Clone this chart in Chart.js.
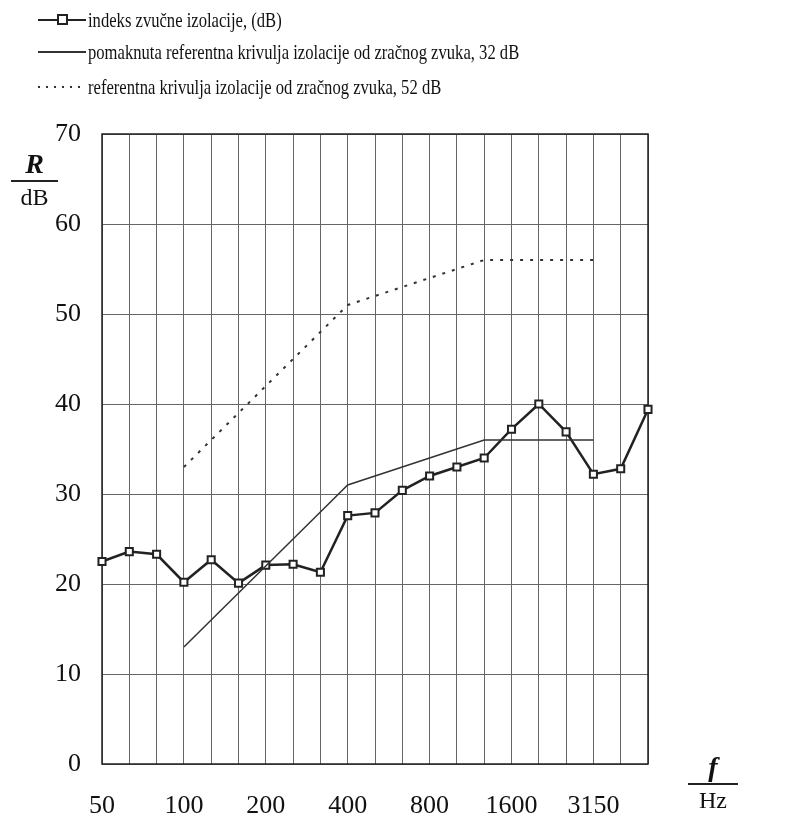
<!DOCTYPE html>
<html>
<head>
<meta charset="utf-8">
<script src="https://cdn.jsdelivr.net/npm/chart.js@4/dist/chart.umd.min.js"></script>
<style>
  body { margin: 0; background: #fff; font-family: "Liberation Serif", serif; }
  #wrap { position: relative; width: 789px; height: 816px; }
  canvas { position: absolute; left: 0; top: 0; }
  .leg { position: absolute; left: 38px; height: 24px; white-space: nowrap; }
  .leg .sample { position: absolute; left: 0; top: 11px; width: 48px; height: 2px; }
  .leg .txt { position: absolute; left: 50px; top: 0; font-size: 22px; line-height: 24px;
              transform: scaleX(0.755); transform-origin: left center; color: #111; }
  .box { position: absolute; left: 19px; top: -5px; width: 7px; height: 7px;
         border: 2px solid #222; background: #fff; }
  .frac { position: absolute; text-align: center; color: #111; }
  .frac .top { font-weight: bold; font-style: italic; font-size: 28px; line-height: 28px; }
  .frac .bar { border-top: 2px solid #222; margin: 2px 0 4px 0; }
  .frac .bot { font-size: 24px; line-height: 22px; }
</style>
</head>
<body>
<div id="wrap">
  <canvas id="chart" width="789" height="816"></canvas>
  <div class="leg" style="top:8px">
    <div class="sample" style="background:#222"><div class="box"></div></div>
    <div class="txt">indeks zvučne izolacije, (dB)</div>
  </div>
  <div class="leg" style="top:40px">
    <div class="sample" style="background:#333; height:1.5px"></div>
    <div class="txt">pomaknuta referentna krivulja izolacije od zračnog zvuka, 32 dB</div>
  </div>
  <div class="leg" style="top:75px">
    <div class="sample" style="background:repeating-linear-gradient(90deg, #333 0 2px, transparent 2px 8px)"></div>
    <div class="txt">referentna krivulja izolacije od zračnog zvuka, 52 dB</div>
  </div>
  <div class="frac" style="left:11px; top:150px; width:47px">
    <div class="top">R</div><div class="bar"></div><div class="bot">dB</div>
  </div>
  <div class="frac" style="left:688px; top:753px; width:50px">
    <div class="top">f</div><div class="bar"></div><div class="bot">Hz</div>
  </div>
</div>
<script>
// third-octave bands, Hz
const frequencies = ['50', '63', '80', '100', '125', '160', '200', '250', '315', '400',
    '500', '630', '800', '1000', '1250', '1600', '2000', '2500', '3150', '4000', '5000'];
const shownTicks = ['50', '100', '200', '400', '800', '1600', '3150'];

// measured sound reduction index R, dB
const measured = [22.5, 23.6, 23.3, 20.2, 22.7, 20.1, 22.1, 22.2, 21.3, 27.6,
    27.9, 30.4, 32.0, 33.0, 34.0, 37.2, 40.0, 36.9, 32.2, 32.8, 39.4];

// shifted reference curve (32 dB)
const shiftedRef = [null, null, null, 13, 16, 19, 22, 25, 28, 31,
    32, 33, 34, 35, 36, 36, 36, 36, 36, null, null];

// reference curve (52 dB)
const referenceCurve = [null, null, null, 33, 36, 39, 42, 45, 48, 51,
    52, 53, 54, 55, 56, 56, 56, 56, 56, null, null];

const ctx = document.getElementById('chart').getContext('2d');

const frame = {
    id: 'frame',
    beforeDatasetsDraw(chart) {
        const a = chart.chartArea;
        const c = chart.ctx;
        c.save();
        c.strokeStyle = '#222';
        c.lineWidth = 1.5;
        c.strokeRect(a.left, a.top, a.right - a.left, a.bottom - a.top);
        c.restore();
    }
};

new Chart(ctx, {
    type: 'line',
    data: {
        labels: frequencies,
        datasets: [{
            label: 'referentna krivulja izolacije od zračnog zvuka, 52 dB',
            data: referenceCurve,
            borderColor: '#333',
            borderWidth: 2,
            borderDash: [3, 7],
            pointRadius: 0,
            tension: 0
        }, {
            label: 'pomaknuta referentna krivulja izolacije od zračnog zvuka, 32 dB',
            data: shiftedRef,
            borderColor: '#333',
            borderWidth: 1.5,
            pointRadius: 0,
            tension: 0
        }, {
            label: 'indeks zvučne izolacije, (dB)',
            data: measured,
            borderColor: '#222',
            borderWidth: 2.5,
            pointStyle: 'rect',
            pointRadius: 5,
            pointBorderWidth: 2,
            pointBackgroundColor: '#fff',
            pointBorderColor: '#222',
            tension: 0
        }]
    },
    options: {
        responsive: false,
        animation: false,
        layout: { padding: { top: 134, right: 141, left: 0, bottom: 0 } },
        plugins: {
            legend: { display: false },
            tooltip: { enabled: false }
        },
        scales: {
            x: {
                offset: false,
                afterFit(scale) { scale.height = 52; },
                border: { display: false },
                grid: { color: '#666', lineWidth: 1, drawTicks: false },
                ticks: {
                    autoSkip: false,
                    maxRotation: 0,
                    padding: 27,
                    color: '#111',
                    font: { family: 'Liberation Serif', size: 26 },
                    callback(value) {
                        const lbl = this.getLabelForValue(value);
                        return shownTicks.includes(lbl) ? lbl : '';
                    }
                }
            },
            y: {
                min: 0,
                max: 70,
                afterFit(scale) { scale.width = 102; },
                border: { display: false },
                grid: { color: '#666', lineWidth: 1, drawTicks: false },
                ticks: {
                    stepSize: 10,
                    padding: 21,
                    color: '#111',
                    font: { family: 'Liberation Serif', size: 26 }
                }
            }
        }
    },
    plugins: [frame]
});
</script>
</body>
</html>
